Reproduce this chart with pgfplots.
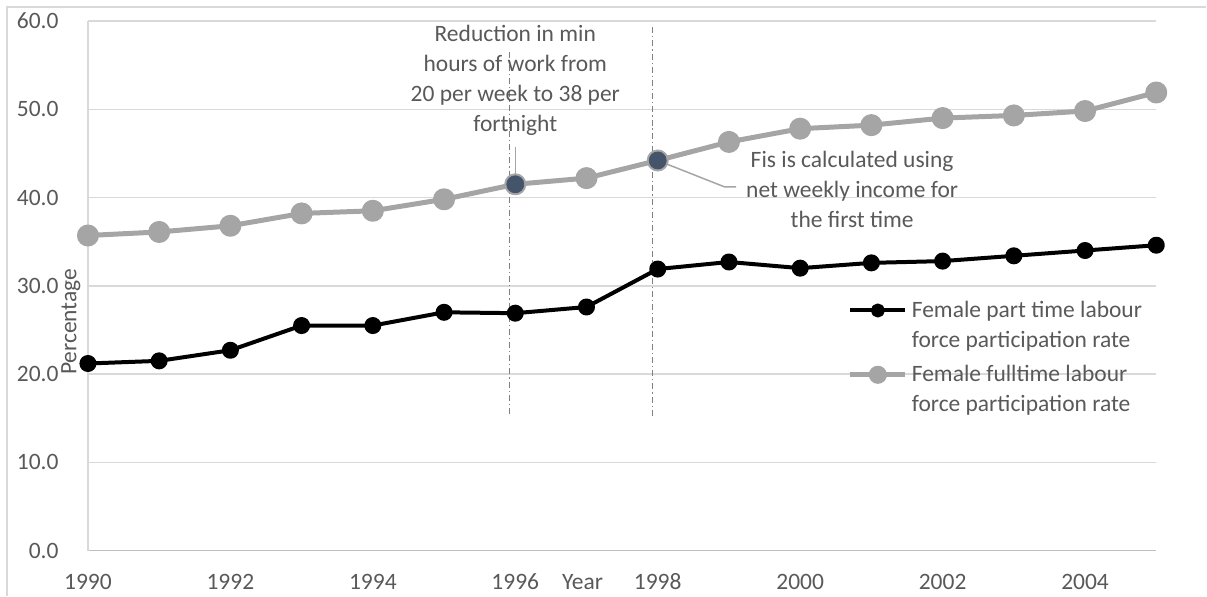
\documentclass[border=0pt]{standalone}
\usepackage{pgfplots}
\pgfplotsset{compat=1.18}
\usepackage{fontspec}
\setmainfont{Carlito}

\definecolor{txt}{HTML}{595959}
\definecolor{gridc}{HTML}{D9D9D9}
\definecolor{axln}{HTML}{BFBFBF}
\definecolor{ftgray}{HTML}{A5A5A5}
\definecolor{hilite}{HTML}{44546A}
\definecolor{vline}{HTML}{808080}

\newcommand{\chartfont}{\fontsize{11.75}{15}\selectfont}

\begin{document}
\begin{tikzpicture}
% page frame, 1 unit = 1 px of the reference
\begin{scope}[x=0.5pt,y=0.5pt]
  \path (0,0) rectangle (1207,596);
  \draw[gridc, line width=0.75pt] (7,0) -- (7,589) -- (1207,589);
  \coordinate (origin) at (88,45);
\end{scope}
\begin{axis}[
    at={(origin)}, anchor=south west,
    scale only axis,
    width=534.5pt, height=265pt,
    xmin=1990, xmax=2005,
    ymin=0, ymax=60,
    clip=false,
    axis x line*=bottom,
    axis y line*=left,
    x axis line style={draw=axln, line width=0.75pt, -},
    y axis line style={draw=gridc, line width=0.75pt, -},
    xtick={1990,1992,...,2004},
    ytick={0,10,...,60},
    major tick length=0pt,
    tick style={draw=none},
    xmajorgrids=false,
    ymajorgrids=true,
    grid style={draw=gridc, line width=0.75pt},
    tick label style={font=\chartfont, text=txt},
    /pgf/number format/assume math mode=true,
    xticklabel style={/pgf/number format/1000 sep={}, anchor=center, inner sep=0pt, yshift=-15.5pt},
    yticklabel style={/pgf/number format/.cd, fixed, fixed zerofill, precision=1, /tikz/.cd,
                      anchor=east, inner sep=0pt, xshift=-14.5pt},
    xlabel={Year},
    xlabel style={at={(rel axis cs:0.463,0)}, anchor=center, yshift=-15.5pt, font=\chartfont, text=txt},
    ylabel={Percentage},
    ylabel style={at={(rel axis cs:-0.016,0.432)}, anchor=center, font=\chartfont, text=txt},
    legend style={at={(axis cs:2000.58,29.25)}, anchor=north west, draw=none, fill=none,
                  font=\chartfont, text=txt, row sep=3.5pt, column sep=0pt,
                  cells={align=left, anchor=west}},
    legend cell align=left,
    legend image code/.code={\draw[yshift=7.5pt,mark repeat=2,mark phase=2,every mark/.append style={scale=0.77}]
        plot coordinates {(0pt,0pt) (13.75pt,0pt) (27.5pt,0pt)};},
]
% Female part time
\addplot[black, line width=2pt, line join=round, mark=*, mark size=3.25pt, mark options={solid}]
coordinates {
 (1990,21.2) (1991,21.5) (1992,22.7) (1993,25.5) (1994,25.5) (1995,27.0)
 (1996,26.9) (1997,27.6) (1998,31.9) (1999,32.7) (2000,32.0) (2001,32.6)
 (2002,32.8) (2003,33.4) (2004,34.0) (2005,34.6)};
\addlegendentry{Female part time labour\\force participation rate}
% Female full time
\addplot[ftgray, line width=2.5pt, line join=round, mark=*, mark size=4.25pt, mark options={solid}]
coordinates {
 (1990,35.7) (1991,36.1) (1992,36.8) (1993,38.2) (1994,38.5) (1995,39.8)
 (1996,41.5) (1997,42.2) (1998,44.2) (1999,46.3) (2000,47.8) (2001,48.2)
 (2002,49.0) (2003,49.3) (2004,49.8) (2005,51.9)};
\addlegendentry{Female fulltime labour\\force participation rate}

% policy change markers
\draw[vline, line width=0.75pt, dash pattern=on 3pt off 1.5pt on 0.6pt off 1.5pt]
  (axis cs:1995.92,56.5) -- (axis cs:1995.92,15.4);
\draw[vline, line width=0.75pt, dash pattern=on 3pt off 1.5pt on 0.6pt off 1.5pt]
  (axis cs:1997.93,59.3) -- (axis cs:1997.93,15.0);

% callouts
\draw[ftgray, line width=0.75pt] (axis cs:1996,45.7) -- (axis cs:1996,41.5);
\node[align=center, font=\chartfont, text=txt, inner sep=0pt] at (axis cs:1996,53.25)
  {Reduction in min\\hours of work from\\20 per week to 38 per\\fortnight};
\draw[ftgray, line width=0.75pt] (axis cs:1998,44.2) -- (axis cs:1998.94,41.2) -- (axis cs:1999.1,41.2);
\node[align=center, font=\chartfont, text=txt, inner sep=0pt] at (axis cs:2000.73,40.9)
  {Fis is calculated using\\net weekly income for\\the first time};

% highlighted points
\addplot[only marks, hilite, mark=*, mark size=4.25pt, forget plot]
coordinates {(1996,41.5) (1998,44.2)};
\end{axis}
\end{tikzpicture}
\end{document}
